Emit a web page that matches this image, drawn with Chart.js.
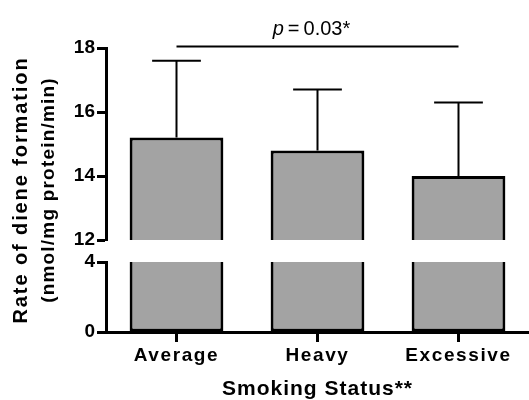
<!DOCTYPE html>
<html><head><meta charset="utf-8">
<script src="https://cdn.jsdelivr.net/npm/chart.js@4/dist/chart.umd.min.js"></script>
<style>html,body{margin:0;padding:0;background:#fff}#wrap{width:529px;height:400px;position:relative}</style>
</head><body><div id="wrap"><canvas id="c"></canvas></div>
<script>
// ---- data ----
const categories = ['Average', 'Heavy', 'Excessive'];
const means = [15.2, 14.8, 14.0];
const sdUpper = [17.6, 16.7, 16.3];
const topTicks = [12, 14, 16, 18];
const bottomTicks = [0, 4];
const sigPair = [0, 2];
const sigLevel = [18.05];
const sigLabel = ['p', '\u2009=\u20090.03*'];
const xTitle = 'Smoking Status**';
const yTitle = ['Rate of diene formation', '(nmol/mg protein/min)'];

const FAM = '"Liberation Sans", Arial, Helvetica, sans-serif';
const breakLow = Math.max(...bottomTicks);
const breakHigh = Math.min(...topTicks);

const tickFont = {family: FAM, size: 19, weight: 'bold'};

const overlay = {
  id: 'overlay',
  beforeDraw(chart) { chart.ctx.letterSpacing = '0px'; },
  afterDatasetsDraw(chart) {
    const ctx = chart.ctx;
    const yS = chart.scales.yTop;
    const meta = chart.getDatasetMeta(0);
    ctx.save();
    ctx.strokeStyle = '#000';
    ctx.lineWidth = 2;
    ctx.lineCap = 'butt';
    means.forEach((m, i) => {
      const bar = meta.data[i];
      const x = bar.x;
      const y1 = yS.getPixelForValue(m);
      const y2 = yS.getPixelForValue(sdUpper[i]);
      const half = bar.width * 0.26;
      ctx.beginPath();
      ctx.moveTo(x, y1); ctx.lineTo(x, y2);
      ctx.moveTo(x - half, y2); ctx.lineTo(x + half, y2);
      ctx.stroke();
    });
    ctx.restore();
    // x tick labels are drawn after this (ticks.z = 2) with letter spacing
    ctx.letterSpacing = '1.6px';
  },
  afterDraw(chart) {
    const ctx = chart.ctx;
    const ca = chart.chartArea;
    ctx.save();
    ctx.letterSpacing = '0px';
    ctx.fillStyle = '#000';
    ctx.strokeStyle = '#000';
    // significance line
    const xs = chart.scales.x;
    const yS = chart.scales.yTop;
    const sy = yS.getPixelForValue(sigLevel[0]);
    const x0 = xs.getPixelForValue(sigPair[0]);
    const x1 = xs.getPixelForValue(sigPair[1]);
    ctx.lineWidth = 2;
    ctx.beginPath(); ctx.moveTo(x0, sy); ctx.lineTo(x1, sy); ctx.stroke();
    // p label
    const fItal = 'italic 20px ' + FAM;
    const fReg = '20px ' + FAM;
    ctx.font = fItal; const w0 = ctx.measureText(sigLabel[0]).width;
    ctx.font = fReg; const w1 = ctx.measureText(sigLabel[1]).width;
    let tx = (x0 + x1) / 2 - (w0 + w1) / 2 - 6;
    ctx.textBaseline = 'alphabetic'; ctx.textAlign = 'left';
    ctx.font = fItal; ctx.fillText(sigLabel[0], tx, sy - 11);
    ctx.font = fReg; ctx.fillText(sigLabel[1], tx + w0, sy - 11);
    // x title
    ctx.font = 'bold 21px ' + FAM;
    ctx.letterSpacing = '1px';
    ctx.textAlign = 'center';
    ctx.fillText(xTitle, (ca.left + ca.right) / 2, 395);
    // y title
    const cy = (ca.top + ca.bottom) / 2;
    ctx.translate(0, cy);
    ctx.rotate(-Math.PI / 2);
    ctx.font = 'bold 20px ' + FAM;
    ctx.letterSpacing = '1.9px';
    ctx.fillText(yTitle[0], 0, 27);
    ctx.font = 'bold 19px ' + FAM;
    ctx.letterSpacing = '1.2px';
    ctx.fillText(yTitle[1], 0, 54);
    ctx.restore();
    ctx.letterSpacing = '0px';
  }
};

const yCommon = (extra) => Object.assign({
  type: 'linear', position: 'left', stack: 'ybreak',
  grid: {drawOnChartArea: false, drawTicks: true, tickLength: 9, tickWidth: 3, tickColor: '#000'},
  border: {display: true, width: 3, color: '#000'},
  ticks: {color: '#000', font: tickFont, padding: 2},
  afterFit: s => { s.width = 106; }
}, extra);

new Chart(document.getElementById('c'), {
  type: 'bar',
  data: {
    labels: categories,
    datasets: [
      {
        data: means.map(v => [breakHigh, v]),
        yAxisID: 'yTop',
        backgroundColor: '#a3a3a3', borderColor: '#000', borderWidth: 3,
        borderSkipped: 'bottom', grouped: false,
        barPercentage: 0.665, categoryPercentage: 1
      },
      {
        data: means.map(v => Math.min(v, breakLow)),
        yAxisID: 'yBottom',
        backgroundColor: '#a3a3a3', borderColor: '#000', borderWidth: 3,
        borderSkipped: 'top', grouped: false,
        barPercentage: 0.665, categoryPercentage: 1
      }
    ]
  },
  options: {
    responsive: true, maintainAspectRatio: false, animation: false,
    layout: {padding: {top: 48, right: 0, bottom: 0, left: 0}},
    plugins: {legend: {display: false}, tooltip: {enabled: false}, title: {display: false}},
    scales: {
      x: {
        type: 'category', offset: true,
        grid: {display: true, drawOnChartArea: false, offset: false, tickLength: 10, tickWidth: 3, tickColor: '#000', z: 1},
        border: {display: true, width: 3, color: '#000', z: 1},
        ticks: {color: '#000', font: tickFont, padding: 2, maxRotation: 0, autoSkip: false, z: 2},
        afterFit: s => { s.height = 68; }
      },
      yBottom: yCommon({
        stackWeight: 70, min: 0, max: breakLow,
        afterBuildTicks: s => { s.ticks = bottomTicks.map(v => ({value: v})); }
      }),
      yGap: yCommon({
        stackWeight: 22, min: 0, max: 1,
        grid: {display: false}, border: {display: false}, ticks: {display: false}
      }),
      yTop: yCommon({
        stackWeight: 192, min: breakHigh, max: Math.max(...topTicks),
        afterBuildTicks: s => { s.ticks = topTicks.map(v => ({value: v})); }
      })
    }
  },
  plugins: [overlay]
});
</script>
</body></html>
